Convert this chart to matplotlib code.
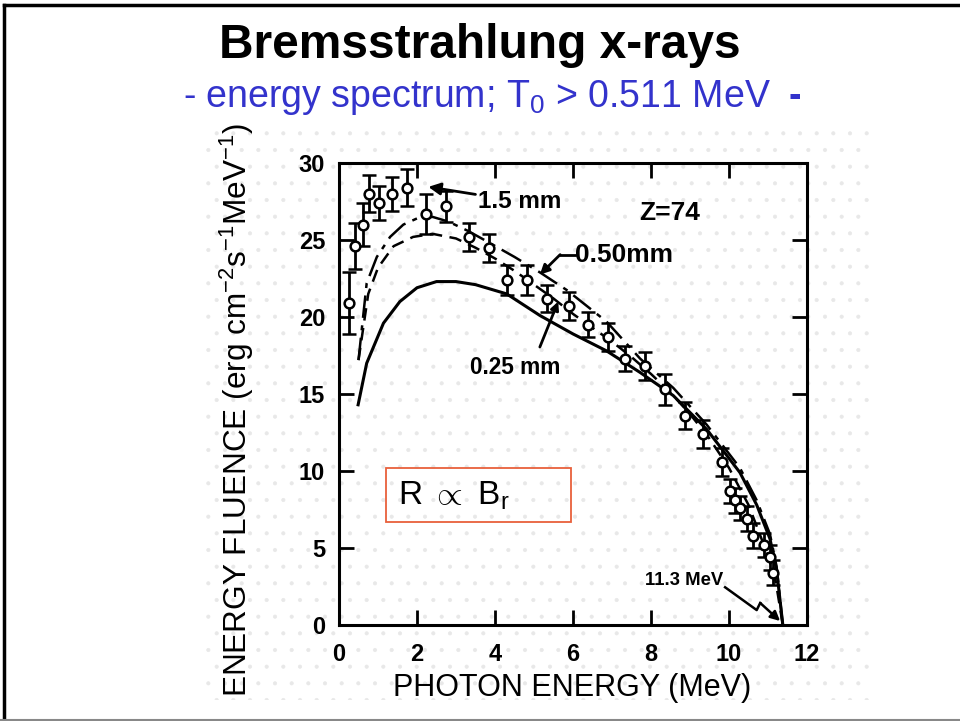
import numpy as np
import matplotlib.pyplot as plt
from matplotlib.patches import Rectangle

plt.rcParams['font.family'] = ['Liberation Sans', 'DejaVu Sans']
plt.rcParams['mathtext.fontset'] = 'custom'
plt.rcParams['mathtext.rm'] = 'Liberation Sans'
plt.rcParams['mathtext.it'] = 'Liberation Sans'
plt.rcParams['mathtext.bf'] = 'Liberation Sans:bold'
plt.rcParams['hatch.linewidth'] = 0.5

# measured points, 1.5 mm target
e_pts = [0.26, 0.41, 0.61, 0.77, 1.03, 1.37, 1.74, 2.23, 2.74, 3.33, 3.85, 4.32,
         4.83, 5.33, 5.90, 6.38, 6.91, 7.33, 7.85, 8.36, 8.87, 9.34, 9.83, 10.03,
         10.15, 10.27, 10.45, 10.62, 10.90, 11.05, 11.12]
f_pts = [20.9, 24.6, 26.0, 28.0, 27.4, 28.0, 28.4, 26.7, 27.2, 25.2, 24.5, 22.4,
         22.4, 21.2, 20.7, 19.5, 18.7, 17.3, 16.8, 15.3, 13.6, 12.4, 10.6, 8.7,
         8.1, 7.6, 6.9, 5.8, 5.2, 4.4, 3.4]
f_err = [2.0, 1.5, 1.4, 1.2, 1.1, 1.1, 1.2, 1.3, 1.0, 0.9, 0.9, 1.0,
         1.0, 0.9, 0.9, 0.8, 0.9, 0.8, 0.9, 1.0, 0.9, 0.9, 0.9, 0.8,
         0.8, 0.8, 0.8, 0.8, 0.8, 0.8, 0.8]

# calculated curves
e_solid = [0.49, 0.71, 1.14, 1.56, 2.0, 2.5, 3.0, 3.5, 4.3, 5.15, 6.0, 6.86,
           7.72, 8.57, 9.43, 10.28, 10.71, 11.05, 11.22, 11.38]
f_solid = [14.3, 17.0, 19.6, 21.0, 21.9, 22.3, 22.3, 22.1, 21.5, 20.1, 18.9, 17.8,
           16.4, 14.9, 12.7, 9.9, 7.8, 5.6, 3.6, 0.0]

e_dash = [0.5, 0.75, 1.0, 1.4, 1.9, 2.4, 3.0, 3.5, 4.0, 4.5, 5.0, 5.5, 6.0,
          6.5, 7.0, 7.5, 8.0, 8.5, 9.0, 9.5, 10.0, 10.5, 11.0, 11.2, 11.38]
f_dash = [17.2, 21.5, 23.2, 24.6, 25.2, 25.4, 25.1, 24.5, 23.8, 23.0, 22.1, 21.2, 20.2,
          19.3, 18.4, 17.4, 16.3, 15.1, 13.7, 12.1, 10.2, 7.8, 4.5, 2.8, 0.0]

e_dd = [0.5, 0.71, 0.97, 1.31, 1.65, 2.0, 2.4, 2.8, 3.3, 3.8, 4.5, 5.15, 5.84,
        6.86, 7.72, 8.57, 9.43, 10.28, 10.71, 11.05, 11.22, 11.38]
f_dd = [17.2, 22.2, 23.9, 25.2, 26.0, 26.4, 26.5, 26.2, 25.6, 24.9, 23.9, 22.9, 21.75,
        19.7, 17.3, 15.4, 13.0, 10.2, 8.1, 5.9, 3.8, 0.0]

x_ticks = [0, 2, 4, 6, 8, 10, 12]
y_ticks = [0, 5, 10, 15, 20, 25, 30]

fig = plt.figure(figsize=(9.6, 7.21), dpi=100)

# scanned-figure background
bg = Rectangle((205/960, 1-700/721), 665/960, 580/721, transform=fig.transFigure,
               facecolor='white', edgecolor='#e8e8e8', hatch='.', linewidth=0, zorder=-2)
fig.patches.append(bg)

# slide frame
fig.add_artist(plt.Line2D([4/960, 4/960], [0, 1-5/721], color='black', lw=2.5, transform=fig.transFigure))
fig.add_artist(plt.Line2D([4/960, 1], [1-5/721, 1-5/721], color='black', lw=2.5, transform=fig.transFigure))
fig.add_artist(plt.Line2D([0, 1], [1/721, 1/721], color='#888888', lw=1.5, transform=fig.transFigure))

fig.text(0.500, 0.937, 'Bremsstrahlung x-rays', ha='center', va='center',
         fontsize=34.5, fontweight='bold')
fig.text(183/960, 0.865, r'- energy spectrum; T$_0$ > 0.511 MeV', ha='left',
         va='center', fontsize=27, color='#3333cc')
fig.text(788/960, 0.865, '-', ha='left', va='center', fontsize=27, color='#3333cc',
         fontweight='bold')

ax = fig.add_axes([339/960, 1-625/721, 468/960, 462/721])
ax.patch.set_alpha(0)

ax.plot(e_solid, f_solid, color='black', lw=2.2)
ax.plot(e_dash, f_dash, color='black', lw=1.8, ls=(0, (5, 3)))
ax.plot(e_dd, f_dd, color='black', lw=1.8, ls=(0, (9, 3, 2, 3)))
ax.errorbar(e_pts, f_pts, yerr=f_err, fmt='o', mfc='white', mec='black', mew=1.8,
            ms=7, ecolor='black', elinewidth=2, capsize=5, capthick=2, zorder=5)

ax.set_xlim(0, 12)
ax.set_ylim(0, 30)
ax.set_xticks(x_ticks)
ax.set_yticks(y_ticks)
ax.tick_params(direction='in', length=11, width=2, top=True, right=True,
               labelsize=17, colors='black')
ax.tick_params(axis='x', pad=13)
ax.tick_params(axis='y', pad=10)
for lab in ax.get_xticklabels() + ax.get_yticklabels():
    lab.set_fontweight('bold')
for s in ax.spines.values():
    s.set_linewidth(2.2)

ax.text(0.498, -0.136, 'PHOTON ENERGY (MeV)', transform=ax.transAxes,
        ha='center', va='center', fontsize=22)
ax.text(-0.218, 0.465, r'ENERGY FLUENCE (erg cm$^{-2}$s$^{-1}$MeV$^{-1}$)',
        transform=ax.transAxes, rotation=90, ha='center', va='center', fontsize=22.7)

# annotations
ax.annotate('1.5 mm', xy=(2.29, 28.45), xytext=(3.57, 27.5), fontsize=17.5, fontweight='bold',
            va='center', ha='left',
            arrowprops=dict(arrowstyle='-|>', color='black', lw=2, mutation_scale=18,
                            shrinkA=0, shrinkB=0))
ax.text(7.7, 26.75, 'Z=74', fontsize=19, fontweight='bold', va='center')
ax.text(6.05, 24.0, '0.50mm', fontsize=19, fontweight='bold', va='center')
ax.plot([6.05, 5.67], [24.05, 24.05], color='black', lw=2)
ax.annotate('', xy=(5.15, 22.75), xytext=(5.67, 24.05),
            arrowprops=dict(arrowstyle='-|>', color='black', lw=2, mutation_scale=14,
                            shrinkA=0, shrinkB=0))
ax.text(3.36, 16.7, '0.25 mm', fontsize=16.3, fontweight='bold', va='center')
ax.annotate('', xy=(5.62, 21.0), xytext=(5.15, 18.05),
            arrowprops=dict(arrowstyle='-|>', color='black', lw=2, mutation_scale=12,
                            shrinkA=0, shrinkB=0))
ax.text(7.85, 2.9, '11.3 MeV', fontsize=13.3, fontweight='bold', va='center')
ax.plot([9.9, 10.71, 10.8], [2.45, 0.97, 1.43], color='black', lw=1.8)
ax.annotate('', xy=(11.31, 0.26), xytext=(10.8, 1.43),
            arrowprops=dict(arrowstyle='-|>', color='black', lw=1.8, mutation_scale=14,
                            shrinkA=0, shrinkB=0))

# R ∝ B_r box
fig.patches.append(Rectangle((386/960, 1-522/721), 185/960, 54/721, transform=fig.transFigure,
                             facecolor='none', edgecolor='#e8603c', lw=1.3, zorder=3))
fig.text(398/960, 1-496/721, r'R $\propto$ B$_\mathrm{r}$', fontsize=24, va='center', ha='left')

fig.savefig('out.png', dpi=100, facecolor='white')
